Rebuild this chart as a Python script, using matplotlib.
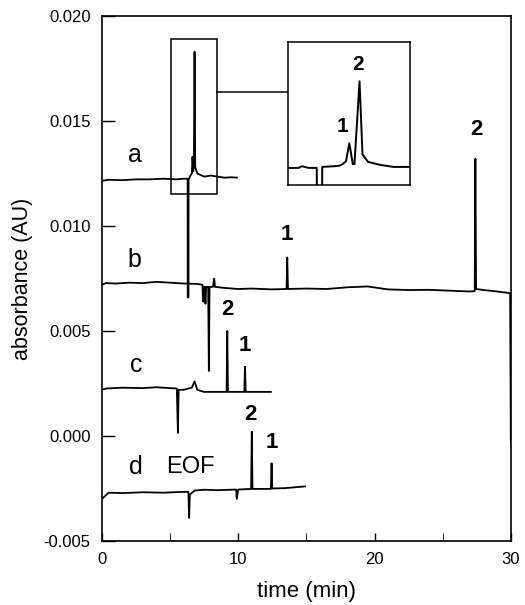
"""Electropherograms a-d with an inset zoom on trace a"""
import matplotlib
matplotlib.use("Agg")
import matplotlib.pyplot as plt
from matplotlib.patches import Rectangle
from matplotlib.ticker import FormatStrFormatter, MultipleLocator

plt.rcParams['font.family'] = ['Liberation Sans', 'DejaVu Sans']
plt.rcParams['axes.unicode_minus'] = False

# trace a (min, AU)
a_time = [0, 0.5, 1.5, 2.5, 3.5, 4.5, 5.5, 6.0, 6.29, 6.3, 6.355, 6.36, 6.5, 6.6,
          6.65, 6.7, 6.75, 6.8, 6.85, 7.0, 7.5, 8.0, 8.5, 9.0, 9.5, 9.9]
a_abs = [0.01215, 0.0122, 0.01218, 0.01222, 0.01222, 0.01225, 0.01222, 0.01225,
         0.01225, 0.0066, 0.0066, 0.0122, 0.0124, 0.0125, 0.0133, 0.0126, 0.0128,
         0.0183, 0.0128, 0.0125, 0.01235, 0.0124, 0.01235, 0.0123, 0.01232, 0.0123]

# trace b
b_time = [0, 0.3, 1, 2, 3, 4, 5, 6, 7, 7.38, 7.42, 7.47, 7.55, 7.6, 7.65, 7.8, 7.85,
          7.9, 8.15, 8.24, 8.3, 9, 10, 11, 12.5, 13.55, 13.6, 13.65, 15, 16.5, 18,
          19.5, 21, 22.5, 24, 25.5, 27.0, 27.35, 27.4, 27.45, 28, 29, 29.95, 30.0]
b_abs = [0.0072, 0.00728, 0.00726, 0.0073, 0.00728, 0.00734, 0.0073, 0.00726,
         0.00724, 0.0072, 0.0064, 0.0071, 0.0071, 0.0063, 0.0071, 0.0071, 0.0031,
         0.0071, 0.0071, 0.0075, 0.0071, 0.00705, 0.0070, 0.00702, 0.00698, 0.0070,
         0.0085, 0.0070, 0.00702, 0.0070, 0.00708, 0.00712, 0.00698, 0.00695,
         0.00696, 0.00692, 0.00688, 0.0069, 0.0132, 0.0070, 0.00695, 0.00688,
         0.0068, -0.0003]

# trace c
c_time = [0, 0.3, 1.5, 3, 4, 5, 5.5, 5.58, 5.63, 6.0, 6.6, 6.8, 7.0, 7.5, 8.5,
          9.15, 9.2, 9.25, 9.5, 10.45, 10.5, 10.55, 11.5, 12.4]
c_abs = [0.0022, 0.00226, 0.0023, 0.00228, 0.00232, 0.00228, 0.00226, 0.00014,
         0.0022, 0.0022, 0.0023, 0.0026, 0.0022, 0.0021, 0.0021, 0.0021, 0.0050,
         0.0021, 0.0021, 0.0021, 0.0033, 0.0021, 0.0021, 0.0021]

# trace d
d_time = [0, 0.5, 1.5, 3, 4.5, 6.0, 6.35, 6.4, 6.45, 6.8, 7.5, 8.5, 9.85, 9.9, 10.0,
          10.95, 11.0, 11.05, 12.4, 12.45, 12.5, 13.5, 14.9]
d_abs = [-0.0030, -0.0027, -0.00272, -0.00268, -0.0027, -0.00266, -0.00266,
         -0.0039, -0.0028, -0.0026, -0.00256, -0.00258, -0.00255, -0.0030,
         -0.00255, -0.00252, 0.0002, -0.00252, -0.00252, -0.0013, -0.0025,
         -0.00248, -0.0024]

# inset: close-up of trace a
ins_time = [5.955, 6.08, 6.12, 6.2, 6.295, 6.3, 6.355, 6.36, 6.5, 6.56, 6.6, 6.64,
            6.68, 6.72, 6.74, 6.8, 6.835, 6.9, 7.04, 7.2, 7.395]
ins_abs = [0.01213, 0.01213, 0.01225, 0.01213, 0.01213, 0.0060, 0.0060, 0.0122,
           0.01225, 0.01228, 0.0124, 0.0126, 0.0139, 0.0124, 0.0124, 0.0183,
           0.0131, 0.01256, 0.01235, 0.0122, 0.0122]

trace_names = ['a', 'b', 'c', 'd']
name_pos = [(2.4, 0.0134), (2.4, 0.0084), (2.5, 0.0034), (2.5, -0.0015)]
peak_labels = [('1', 13.6, 0.0096), ('2', 27.5, 0.0146), ('2', 9.2, 0.0060),
               ('1', 10.5, 0.0043), ('2', 10.9, 0.0010), ('1', 12.5, -0.0003)]
inset_labels = [('1', 6.6, 0.0151), ('2', 6.78, 0.0195)]

fig = plt.figure(figsize=(5.25, 6.05), dpi=100)
ax = fig.add_axes([0.194, 0.1058, 0.779, 0.8678])

for t, v in ((a_time, a_abs), (b_time, b_abs), (c_time, c_abs), (d_time, d_abs)):
    ax.plot(t, v, color='black', lw=1.3)

for name, (x, y) in zip(trace_names, name_pos):
    ax.text(x, y, name, fontsize=18, ha='center', va='center')
ax.text(6.5, -0.0015, 'EOF', fontsize=17, ha='center', va='center')
for lab, x, y in peak_labels:
    ax.text(x, y, lab, fontsize=16, fontweight='bold', ha='center', va='center')

# box around the zoomed region and the line to the inset
ax.add_patch(Rectangle((5.1, 0.01152), 3.35, 0.00738, fill=False, lw=1.1,
                       color='black', zorder=3))
ax.plot([8.45, 13.65], [0.01638, 0.01638], color='black', lw=1.1)

ax.set_xlim(0, 30)
ax.set_ylim(-0.005, 0.020)
ax.xaxis.set_major_locator(MultipleLocator(10))
ax.xaxis.set_minor_locator(MultipleLocator(5))
ax.yaxis.set_major_locator(MultipleLocator(0.005))
ax.yaxis.set_major_formatter(FormatStrFormatter('%.3f'))
ax.tick_params(direction='in', labelsize=12, length=9, width=1, pad=8)
ax.tick_params(axis='x', which='both', direction='in', length=6, pad=8)
ax.set_xlabel('time (min)', fontsize=16, labelpad=10)
ax.set_ylabel('absorbance (AU)', fontsize=15.5, labelpad=8)
for sp in ax.spines.values():
    sp.set_linewidth(1.2)

ins = ax.inset_axes([13.65, 0.01195, 8.95, 0.00681], transform=ax.transData)
ins.plot(ins_time, ins_abs, color='black', lw=1.4)
ins.set_xlim(5.955, 7.395)
ins.set_ylim(0.01091, 0.0211)
ins.set_xticks([])
ins.set_yticks([])
for sp in ins.spines.values():
    sp.set_linewidth(1.1)
for lab, x, y in inset_labels:
    ins.text(x, y, lab, fontsize=15, fontweight='bold', ha='center', va='center')

fig.savefig('out.png', dpi=100)
